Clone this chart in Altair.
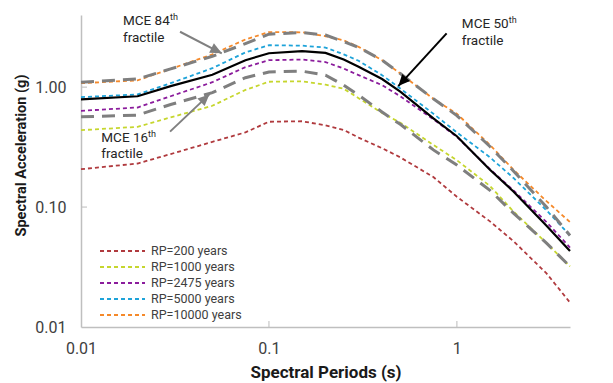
import math
import altair as alt
import pandas as pd

# ---------------- data ----------------
periods = [0.01, 0.02, 0.03, 0.05, 0.075, 0.1, 0.15, 0.2, 0.25, 0.3, 0.4, 0.5, 0.75, 1.0, 1.5, 2.0, 3.0, 4.0]

rp200 = [0.207, 0.231, 0.277, 0.35, 0.42, 0.515, 0.52, 0.48, 0.44, 0.38, 0.31, 0.26, 0.178, 0.122, 0.076, 0.052, 0.028, 0.016]
rp1000 = [0.438, 0.467, 0.56, 0.70, 0.95, 1.11, 1.12, 1.05, 0.97, 0.81, 0.61, 0.506, 0.33, 0.246, 0.15, 0.092, 0.05, 0.032]
rp2475 = [0.635, 0.677, 0.84, 1.10, 1.47, 1.68, 1.70, 1.62, 1.43, 1.26, 1.04, 0.84, 0.54, 0.385, 0.207, 0.138, 0.075, 0.046]
rp5000 = [0.826, 0.87, 1.08, 1.44, 1.95, 2.24, 2.22, 2.14, 1.88, 1.66, 1.26, 0.975, 0.60, 0.42, 0.26, 0.175, 0.094, 0.058]
rp10000 = [1.08, 1.14, 1.42, 1.88, 2.5, 2.88, 2.87, 2.66, 2.46, 2.17, 1.68, 1.30, 0.80, 0.60, 0.33, 0.205, 0.112, 0.075]

mce50 = [0.79, 0.84, 1.02, 1.27, 1.68, 1.92, 2.0, 1.93, 1.70, 1.48, 1.17, 0.92, 0.55, 0.39, 0.205, 0.135, 0.07, 0.043]
mce84 = [1.10, 1.17, 1.42, 1.81, 2.31, 2.77, 2.86, 2.72, 2.40, 2.15, 1.68, 1.30, 0.80, 0.58, 0.32, 0.20, 0.10, 0.058]
mce16 = [0.566, 0.585, 0.717, 0.90, 1.20, 1.34, 1.36, 1.26, 1.04, 0.86, 0.62, 0.49, 0.30, 0.224, 0.138, 0.089, 0.05, 0.032]

rp_names = ["RP=200 years", "RP=1000 years", "RP=2475 years", "RP=5000 years", "RP=10000 years"]
rp_colors = ["#b03a3e", "#c6d62e", "#8b1c9c", "#1ea3d9", "#f5892a"]

x_ticks = [0.01, 0.1, 1]
y_ticks = [0.01, 0.1, 1]
x_inner_ticks = [0.1, 1]
y_inner_ticks = [0.1, 1]

# annotation texts (anchor positions in data space)
ann_text = ["MCE 84", "fractile", "MCE 16", "fractile", "MCE 50", "fractile"]
ann_period = [0.01672, 0.01672, 0.01283, 0.01283, 1.063, 1.063]
ann_sa = [3.30, 2.37, 0.349, 0.255, 3.10, 2.25]

sup_text = ["th", "th", "th"]
sup_period = [0.02977, 0.02274, 1.889]
sup_sa = [3.63, 0.385, 3.43]

arrow_names = ["84", "16", "50"]
arrow_tail_period = [0.03365, 0.02977, 0.882]
arrow_tail_sa = [2.90, 0.426, 2.81]
arrow_tip_period = [0.0561, 0.0482, 0.488]
arrow_tip_sa = [1.917, 0.871, 1.022]
arrow_colors = ["#808080", "#808080", "#000000"]

# ---------------- layout ----------------
W, H = 489, 312
X_DOM = [0.01, 4.0]
Y_DOM = [0.01, 4.0]
FONT = "Roboto"
AXIS_COLOR = "#bfbfbf"


def px(t):
    return W * (math.log10(t) - math.log10(X_DOM[0])) / (math.log10(X_DOM[1]) - math.log10(X_DOM[0]))


def py(s):
    return H * (math.log10(Y_DOM[1]) - math.log10(s)) / (math.log10(Y_DOM[1]) - math.log10(Y_DOM[0]))


rows = []
for name, vals in zip(rp_names, [rp200, rp1000, rp2475, rp5000, rp10000]):
    for t, v in zip(periods, vals):
        rows.append({"period": t, "sa": v, "series": name})
df_rp = pd.DataFrame(rows)

rows = []
for name, vals in [("MCE 84th", mce84), ("MCE 16th", mce16)]:
    for t, v in zip(periods, vals):
        rows.append({"period": t, "sa": v, "series": name})
df_gray = pd.DataFrame(rows)

df_black = pd.DataFrame({"period": periods, "sa": mce50})

df_ann = pd.DataFrame({"period": ann_period, "sa": ann_sa, "text": ann_text})
df_sup = pd.DataFrame({"period": sup_period, "sa": sup_sa, "text": sup_text})

angles = []
for t0, s0, t1, s1 in zip(arrow_tail_period, arrow_tail_sa, arrow_tip_period, arrow_tip_sa):
    dx = px(t1) - px(t0)
    dy = py(s1) - py(s0)
    angles.append(math.degrees(math.atan2(dx, -dy)) % 360)

df_arrow = pd.DataFrame({
    "name": arrow_names,
    "p0": arrow_tail_period, "s0": arrow_tail_sa,
    "p1": arrow_tip_period, "s1": arrow_tip_sa,
    "color": arrow_colors, "angle": angles,
})

df_xt = pd.DataFrame({"period": x_inner_ticks, "sa": [Y_DOM[0]] * len(x_inner_ticks)})
df_yt = pd.DataFrame({"period": [X_DOM[0]] * len(y_inner_ticks), "sa": y_inner_ticks})

xscale = alt.Scale(type="log", domain=X_DOM, nice=False)
yscale = alt.Scale(type="log", domain=Y_DOM, nice=False)

x_axis = alt.Axis(values=x_ticks, format="~g", title="Spectral Periods (s)", labelFlush=False,
                  labelPadding=13, titleY=50, titleBaseline="alphabetic", titleFontSize=17)
y_axis = alt.Axis(values=y_ticks, format=".2f", title="Spectral Acceleration (g)", labelFlush=False,
                  labelPadding=15, titleX=-56, titleY=140, titleBaseline="alphabetic",
                  titleAlign="center", titleAngle=-90, titleFontSize=14.5)

base_x = alt.X("period:Q", scale=xscale, axis=x_axis)
base_y = alt.Y("sa:Q", scale=yscale, axis=y_axis)

rp_lines = alt.Chart(df_rp).mark_line(strokeDash=[4, 3], strokeWidth=1.8).encode(
    x=base_x,
    y=base_y,
    color=alt.Color("series:N", scale=alt.Scale(domain=rp_names, range=rp_colors),
                    sort=rp_names,
                    legend=alt.Legend(title=None, orient="none", legendX=34.5, legendY=229,
                                      symbolType="M-4,0H4", symbolSize=126.5, symbolStrokeWidth=2,
                                      symbolDash=[4, 3], symbolFillColor="transparent",
                                      labelFont=FONT, labelFontSize=12.5,
                                      labelColor="#404040", rowPadding=2, padding=0,
                                      labelOffset=21.5)),
)

gray_lines = alt.Chart(df_gray).mark_line(color="#7f7f7f", strokeDash=[13, 8], strokeWidth=3).encode(
    x="period:Q", y="sa:Q", detail="series:N"
)

black_line = alt.Chart(df_black).mark_line(color="#000000", strokeWidth=2.2).encode(
    x="period:Q", y="sa:Q"
)

ann = alt.Chart(df_ann).mark_text(align="left", baseline="alphabetic", font=FONT, fontSize=13.5,
                                  color="#262626").encode(x="period:Q", y="sa:Q", text="text:N")
sup = alt.Chart(df_sup).mark_text(align="left", baseline="alphabetic", font=FONT, fontSize=9,
                                  color="#262626").encode(x="period:Q", y="sa:Q", text="text:N")

arrow_lines = alt.Chart(df_arrow).mark_rule(strokeWidth=2).encode(
    x="p0:Q", y="s0:Q", x2="p1:Q", y2="s1:Q", color=alt.Color("color:N", scale=None)
)
arrow_heads = alt.Chart(df_arrow).mark_point(
    shape="M0,0L-1,2.2L1,2.2Z", size=110, filled=True, opacity=1, strokeWidth=0
).encode(
    x="p1:Q", y="s1:Q", angle=alt.Angle("angle:Q", scale=None),
    fill=alt.Fill("color:N", scale=None)
)

# small inward ticks on the axes
x_inner = alt.Chart(df_xt).mark_tick(orient="vertical", color=AXIS_COLOR, thickness=1.5,
                                     size=6, yOffset=-3).encode(x="period:Q", y="sa:Q")
y_inner = alt.Chart(df_yt).mark_tick(orient="horizontal", color=AXIS_COLOR, thickness=1.5,
                                     size=6, xOffset=3).encode(x="period:Q", y="sa:Q")

chart = alt.layer(rp_lines, gray_lines, black_line, arrow_lines, arrow_heads, ann, sup,
                  x_inner, y_inner).properties(
    width=W, height=H,
    autosize=alt.AutoSizeParams(type="none"),
    padding={"left": 73, "top": 7, "right": 30, "bottom": 55},
).configure_view(stroke=None).configure_axis(
    grid=False, ticks=False, domainColor=AXIS_COLOR, domainWidth=1.5,
    labelFont=FONT, labelFontSize=16, labelColor="#404040",
    titleFont=FONT, titleFontWeight="bold", titleColor="#1a1a1a",
)

chart.save("out.html", embed_options={"renderer": "svg", "actions": False})
